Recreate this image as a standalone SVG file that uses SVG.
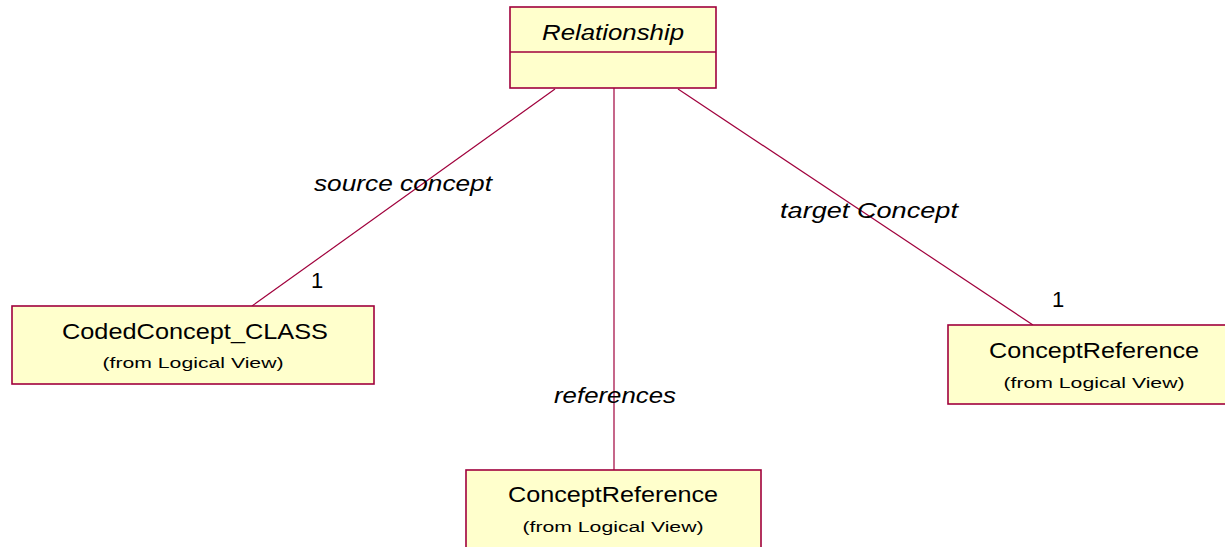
<svg xmlns="http://www.w3.org/2000/svg" width="1225" height="547" viewBox="0 0 1225 547">
  <style>
    .box { fill: #ffffcc; stroke: #a0003c; stroke-width: 1.6; }
    .sep { stroke: #a0003c; stroke-width: 1.6; }
    .edge { stroke: #a0003c; stroke-width: 1.2; fill: none; }
    text { font-family: "Liberation Sans", Arial, sans-serif; fill: #000; }
    .name { font-size: 22px; text-anchor: middle; }
    .from { font-size: 14px; text-anchor: middle; }
    .role { font-size: 22px; font-style: italic; }
    .mult { font-size: 22px; }
  </style>
  <rect width="1225" height="547" fill="#ffffff"/>

  <!-- associations from Relationship to its three ends -->
  <g id="connectors">
    <line class="edge" x1="555" y1="89" x2="252" y2="306"/>
    <line class="edge" x1="614" y1="88" x2="614" y2="470"/>
    <line class="edge" x1="678" y1="89" x2="1033" y2="325"/>
    <text class="role" x="314" y="191" textLength="178" lengthAdjust="spacingAndGlyphs">source concept</text>
    <text class="role" x="780" y="218" textLength="178" lengthAdjust="spacingAndGlyphs">target Concept</text>
    <text class="role" x="554" y="403" textLength="122" lengthAdjust="spacingAndGlyphs">references</text>
    <text class="mult" x="311" y="288">1</text>
    <text class="mult" x="1052" y="307">1</text>
  </g>

  <g id="relationship">
    <rect class="box" x="510" y="7" width="206" height="81"/>
    <line class="sep" x1="510" y1="52" x2="716" y2="52"/>
    <text class="name" x="613" y="40" font-style="italic" textLength="142" lengthAdjust="spacingAndGlyphs">Relationship</text>
  </g>

  <g id="coded-concept">
    <rect class="box" x="12" y="306" width="362" height="78"/>
    <text class="name" x="195" y="339" textLength="266" lengthAdjust="spacingAndGlyphs">CodedConcept_CLASS</text>
    <text class="from" x="193" y="368" textLength="181" lengthAdjust="spacingAndGlyphs">(from Logical View)</text>
  </g>

  <g id="concept-reference-target">
    <rect class="box" x="948" y="325" width="290" height="79"/>
    <text class="name" x="1094" y="358" textLength="210" lengthAdjust="spacingAndGlyphs">ConceptReference</text>
    <text class="from" x="1094" y="388" textLength="181" lengthAdjust="spacingAndGlyphs">(from Logical View)</text>
  </g>

  <g id="concept-reference-refs">
    <rect class="box" x="466" y="470" width="295" height="90"/>
    <text class="name" x="613" y="502" textLength="210" lengthAdjust="spacingAndGlyphs">ConceptReference</text>
    <text class="from" x="613" y="532" textLength="181" lengthAdjust="spacingAndGlyphs">(from Logical View)</text>
  </g>
</svg>
